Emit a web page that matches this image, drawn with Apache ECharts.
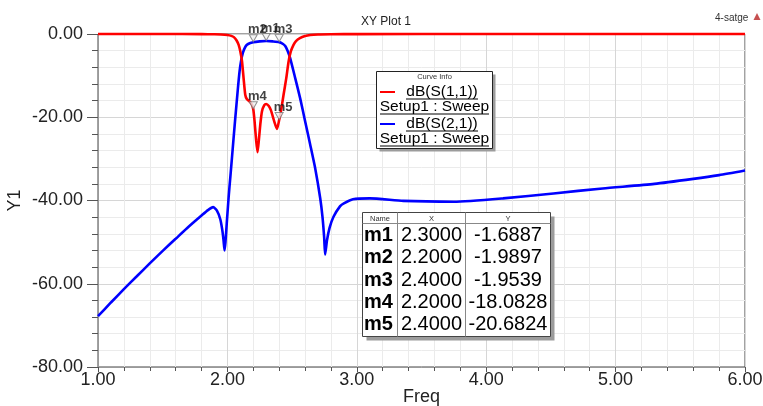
<!DOCTYPE html>
<html>
<head>
<meta charset="utf-8">
<script src="https://cdn.jsdelivr.net/npm/echarts@6/dist/echarts.min.js"></script>
<style>
html,body{margin:0;padding:0;background:#fff;}
#chart{width:763px;height:406px;}
</style>
</head>
<body>
<div id="chart"></div>
<script>
// ---- data ----
var s21Freq = [1.0,1.1,1.2,1.3,1.4,1.5,1.6,1.7,1.8,1.85,1.89,1.92,1.945,1.96,1.97,1.978,1.985,1.995,2.01,2.022,2.035,2.06,2.08,2.094,2.105,2.12,2.14,2.16,2.2,2.25,2.3,2.35,2.4,2.43,2.447,2.465,2.485,2.524,2.562,2.601,2.64,2.678,2.717,2.735,2.748,2.755,2.77,2.79,2.82,2.87,2.9,2.97,3.1,3.36,3.75,4.13,4.52,4.9,5.3,5.6,5.8,6.0];
var s21dB = [-67.8,-64.5,-61.3,-58.2,-55.1,-52.1,-49.2,-46.3,-43.6,-42.3,-41.6,-42.5,-44.5,-47,-49.5,-52,-50,-45.5,-39,-34.6,-29.8,-20.5,-13.5,-9,-6.6,-4.5,-3.0,-2.4,-1.99,-1.78,-1.69,-1.78,-1.95,-2.4,-2.9,-4.0,-5.8,-10.6,-15.4,-21,-26.6,-32.2,-39.4,-44,-49,-53,-49.5,-46.5,-43.9,-41.4,-40.7,-39.7,-39.5,-40.1,-40.3,-39.5,-38.3,-37.1,-36.0,-34.8,-33.9,-32.8];
var s11Freq = [1.0,1.5,1.8,1.9,1.95,2.0,2.03,2.05,2.07,2.087,2.1,2.113,2.125,2.138,2.15,2.175,2.19,2.2,2.21,2.222,2.233,2.243,2.255,2.267,2.285,2.3,2.32,2.336,2.362,2.383,2.4,2.415,2.434,2.455,2.473,2.49,2.511,2.53,2.56,2.6,2.64,2.7,2.8,3.0,4.0,5.0,6.0];
var s11dB = [0,-0.01,-0.03,-0.07,-0.12,-0.25,-0.45,-0.75,-1.5,-2.6,-4.2,-6.6,-10.6,-14.6,-15.6,-16.3,-17.0,-18.08,-21,-25.5,-28.4,-25.5,-21.5,-18.6,-17.1,-16.8,-17.3,-18.3,-21,-22.8,-20.68,-18.3,-14.6,-10.6,-6.6,-4.2,-2.6,-1.7,-1.0,-0.5,-0.25,-0.12,-0.06,-0.03,-0.01,-0.005,0];
var markerNames = ['m1','m2','m3','m4','m5'];
var markerFreq = [2.3,2.2,2.4,2.2,2.4];
var markerDB = [-1.6887,-1.9897,-1.9539,-18.0828,-20.6824];
var curveNames = ['dB(S(1,1))','dB(S(2,1))'];
var sweepName = 'Setup1 : Sweep';
var titleText = 'XY Plot 1';
var projectText = '4-satge';
var xTitle = 'Freq';
var yTitle = 'Y1';

// ---- build ----
var FF = '"Liberation Sans", Arial, sans-serif';
function pairs(xs, ys){ return xs.map(function(x,i){ return [x, ys[i]]; }); }

var graphics = [];
function add(g){ g.z = 100; graphics.push(g); }
// header texts
add({type:'text', x:715, y:18, style:{text:projectText, fontSize:10, fontFamily:FF, fill:'#333', verticalAlign:'middle'}});
add({type:'polygon', shape:{points:[[753.5,20],[760.5,20],[757,13]]}, style:{fill:'#c65050'}});

// legend box (Curve Info)
var lx = 376.5, ly = 71.5, lw = 116, lh = 77;
add({type:'rect', shape:{x:lx+3, y:ly+3, width:lw, height:lh}, style:{fill:'#9c9c9c'}});
add({type:'rect', shape:{x:lx, y:ly, width:lw, height:lh}, style:{fill:'#fff', stroke:'#222', lineWidth:1}});
add({type:'text', x:lx+lw/2, y:ly+5.5, style:{text:'Curve Info', fontSize:7.5, fontFamily:FF, fill:'#333', align:'center', verticalAlign:'middle'}});
var curveColors = ['#ff0000','#0000ff'];
curveNames.forEach(function(n, i){
  var yc = 91.5 + i*32;
  add({type:'line', shape:{x1:380, y1:yc+0.5, x2:395, y2:yc+0.5}, style:{stroke:curveColors[i], lineWidth:2}});
  add({type:'text', x:442, y:yc, style:{text:n, fontSize:15.5, fontFamily:FF, fill:'#000', align:'center', verticalAlign:'middle'}});
  add({type:'line', shape:{x1:406, y1:yc+7.5, x2:478, y2:yc+7.5}, style:{stroke:'#000', lineWidth:1}});
  add({type:'text', x:434.5, y:yc+15.5, style:{text:sweepName, fontSize:15.5, fontFamily:FF, fill:'#000', align:'center', verticalAlign:'middle'}});
  add({type:'line', shape:{x1:380, y1:yc+22.5, x2:489, y2:yc+22.5}, style:{stroke:'#000', lineWidth:1}});
});

// marker table
var tx = 362.5, ty = 212.5, tw = 188, th = 124;
var c1 = 397.5, c2 = 465.5;
add({type:'rect', shape:{x:tx+4, y:ty+4, width:tw, height:th}, style:{fill:'#9c9c9c'}});
add({type:'rect', shape:{x:tx, y:ty, width:tw, height:th}, style:{fill:'#fff', stroke:'#444', lineWidth:1}});
add({type:'line', shape:{x1:tx, y1:223.5, x2:tx+tw, y2:223.5}, style:{stroke:'#888', lineWidth:1}});
add({type:'line', shape:{x1:c1, y1:ty, x2:c1, y2:ty+th}, style:{stroke:'#888', lineWidth:1}});
add({type:'line', shape:{x1:c2, y1:ty, x2:c2, y2:ty+th}, style:{stroke:'#888', lineWidth:1}});
[['Name',(tx+c1)/2],['X',(c1+c2)/2],['Y',(c2+tx+tw)/2]].forEach(function(h){
  add({type:'text', x:h[1], y:218.5, style:{text:h[0], fontSize:7.5, fontFamily:FF, fill:'#333', align:'center', verticalAlign:'middle'}});
});
markerNames.forEach(function(n, i){
  var yc = 235.5 + i*22.3;
  add({type:'text', x:364, y:yc, style:{text:n, fontSize:20, fontWeight:'bold', fontFamily:FF, fill:'#000', verticalAlign:'middle'}});
  add({type:'text', x:(c1+c2)/2, y:yc, style:{text:markerFreq[i].toFixed(4), fontSize:20, fontFamily:FF, fill:'#000', align:'center', verticalAlign:'middle'}});
  add({type:'text', x:(c2+tx+tw)/2, y:yc, style:{text:markerDB[i].toFixed(4), fontSize:20, fontFamily:FF, fill:'#000', align:'center', verticalAlign:'middle'}});
});

var chart = echarts.init(document.getElementById('chart'), null, {renderer:'canvas'});
var option = {
  animation:false,
  backgroundColor:'#fff',
  title:{text:titleText, left:356, top:11, textStyle:{fontSize:12, fontWeight:'normal', color:'#222', fontFamily:FF}},
  grid:{left:98, right:18, top:34, bottom:39, outerBoundsMode:'none', containLabel:false, show:true, borderColor:'#444', borderWidth:1, backgroundColor:'#fff'},
  xAxis:{
    type:'value', min:1, max:6, interval:1,
    name:xTitle, nameLocation:'middle', nameGap:21, nameMoveOverlap:false,
    nameTextStyle:{fontSize:18, color:'#222', fontFamily:FF},
    axisLine:{show:true, onZero:false, lineStyle:{color:'#999'}},
    axisTick:{show:true, inside:false, length:5, lineStyle:{color:'#555'}},
    minorTick:{show:true, splitNumber:5, length:4, lineStyle:{color:'#555'}},
    splitLine:{show:true, lineStyle:{color:'#d6d6d6'}},
    minorSplitLine:{show:true, lineStyle:{color:'#ebebeb'}},
    axisLabel:{formatter:function(v){return v.toFixed(2);}, fontSize:18, color:'#222', margin:4, fontFamily:FF}
  },
  yAxis:{
    type:'value', min:-80, max:0, interval:20,
    name:yTitle, nameLocation:'middle', nameGap:74, nameRotate:90, nameMoveOverlap:false,
    nameTextStyle:{fontSize:18, color:'#222', fontFamily:FF},
    axisLine:{show:true, onZero:false, lineStyle:{color:'#999'}},
    axisTick:{show:true, inside:false, length:11, lineStyle:{color:'#555'}},
    minorTick:{show:true, splitNumber:5, length:6, lineStyle:{color:'#555'}},
    splitLine:{show:true, lineStyle:{color:'#d6d6d6'}},
    minorSplitLine:{show:true, lineStyle:{color:'#ebebeb'}},
    axisLabel:{formatter:function(v){return v.toFixed(2);}, fontSize:18, color:'#222', margin:15, fontFamily:FF}
  },
  series:[
    {name:curveNames[1], type:'line', data:pairs(s21Freq, s21dB), showSymbol:false, smooth:0.2, clip:false,
     lineStyle:{color:'#0000ff', width:2.6}, itemStyle:{color:'#0000ff'}, z:2},
    {name:curveNames[0], type:'line', data:pairs(s11Freq, s11dB), showSymbol:false, smooth:0.2, clip:false,
     lineStyle:{color:'#ff0000', width:2.6}, itemStyle:{color:'#ff0000'}, z:3},
    {name:'markers', type:'scatter', z:5,
     data:markerFreq.map(function(f,i){ return {value:[f, markerDB[i]], name:markerNames[i]}; }),
     symbol:'triangle', symbolRotate:180, symbolSize:[8,7], symbolOffset:[0,-4],
     itemStyle:{color:'#f2f2f2', borderColor:'#777', borderWidth:1},
     label:{show:true, position:'top', distance:-2, offset:[4,0], formatter:'{b}', fontSize:13, fontWeight:'bold', color:'#111', fontFamily:FF}}
  ],
  graphic:graphics
};
chart.setOption(option);
</script>
</body>
</html>
